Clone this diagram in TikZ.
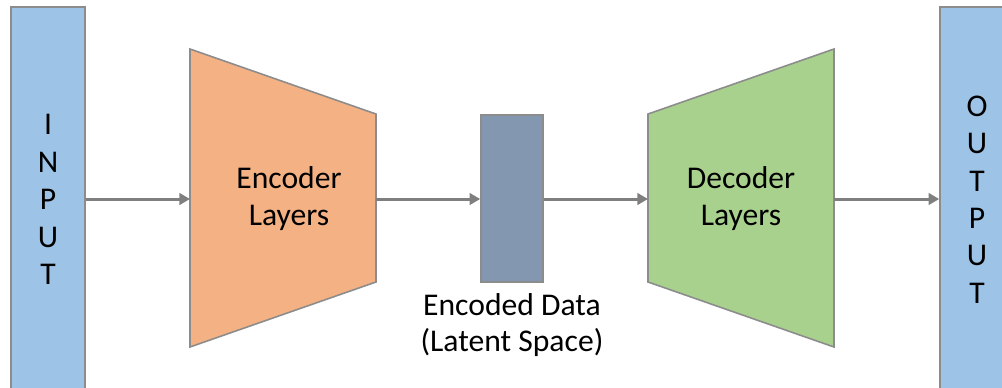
\documentclass[tikz,border=0pt]{standalone}
\usepackage{fontspec}
\setmainfont{Carlito}
\usetikzlibrary{arrows.meta}
\definecolor{ioblue}{HTML}{9DC3E6}
\definecolor{encorange}{HTML}{F4B183}
\definecolor{latgray}{HTML}{8497B0}
\definecolor{decgreen}{HTML}{A9D18E}
\definecolor{edgegray}{HTML}{8C8C8C}
\definecolor{flowgray}{HTML}{7F7F7F}
\begin{document}
\begin{tikzpicture}[
    x=0.02cm, y=-0.02cm,
    font=\fontsize{18}{21}\selectfont,
    iobox/.style={draw=edgegray,fill=ioblue,line width=0.9pt,minimum width=1.48cm,minimum height=7.7cm,
        align=center,font=\fontsize{18}{21.3}\selectfont,inner sep=0pt},
    layer/.style={draw=edgegray,line width=0.9pt},
    latent/.style={draw=edgegray,fill=latgray,line width=0.9pt,minimum width=1.24cm,minimum height=3.34cm,inner sep=0pt},
    etiqueta/.style={align=center,inner sep=0pt},
    fluxo/.style={draw=flowgray,line width=1.7pt,-{Triangle[length=6pt,width=6.5pt]}}
]
\useasboundingbox (0,0) rectangle (1002,387);

% caixas de entrada e saida
\node[iobox] (input) at (48,199.5) {I\\N\\P\\U\\T};
\node[iobox] (output) at (977,199.5) {O\\U\\T\\P\\U\\T};

% camadas do codificador e decodificador
\coordinate (enc-nw) at (190,49);
\coordinate (enc-ne) at (376,114);
\coordinate (enc-se) at (376,282);
\coordinate (enc-sw) at (190,347);
\coordinate (dec-nw) at (648,114);
\coordinate (dec-ne) at (834,49);
\coordinate (dec-se) at (834,347);
\coordinate (dec-sw) at (648,282);
\draw[layer,fill=encorange] (enc-nw) -- (enc-ne) -- (enc-se) -- (enc-sw) -- cycle;
\draw[layer,fill=decgreen] (dec-nw) -- (dec-ne) -- (dec-se) -- (dec-sw) -- cycle;
\coordinate (enc-w) at (190,199);
\coordinate (enc-e) at (376,199);
\coordinate (dec-w) at (648,199);
\coordinate (dec-e) at (834,199);

\node[etiqueta] (enc) at (289,199) {Encoder\\Layers};
\node[etiqueta] (dec) at (741,199) {Decoder\\Layers};

% espaco latente
\node[latent] (lat) at (512,198.5) {};
\node[etiqueta,below=0.2cm] (latlabel) at (lat.south) {Encoded Data\\(Latent Space)};

\draw[fluxo] (input.east |- enc-w) -- (enc-w);
\draw[fluxo] (enc-e) -- (lat.west |- enc-e);
\draw[fluxo] (lat.east |- dec-w) -- (dec-w);
\draw[fluxo] (dec-e) -- (output.west |- dec-e);
\end{tikzpicture}
\end{document}
